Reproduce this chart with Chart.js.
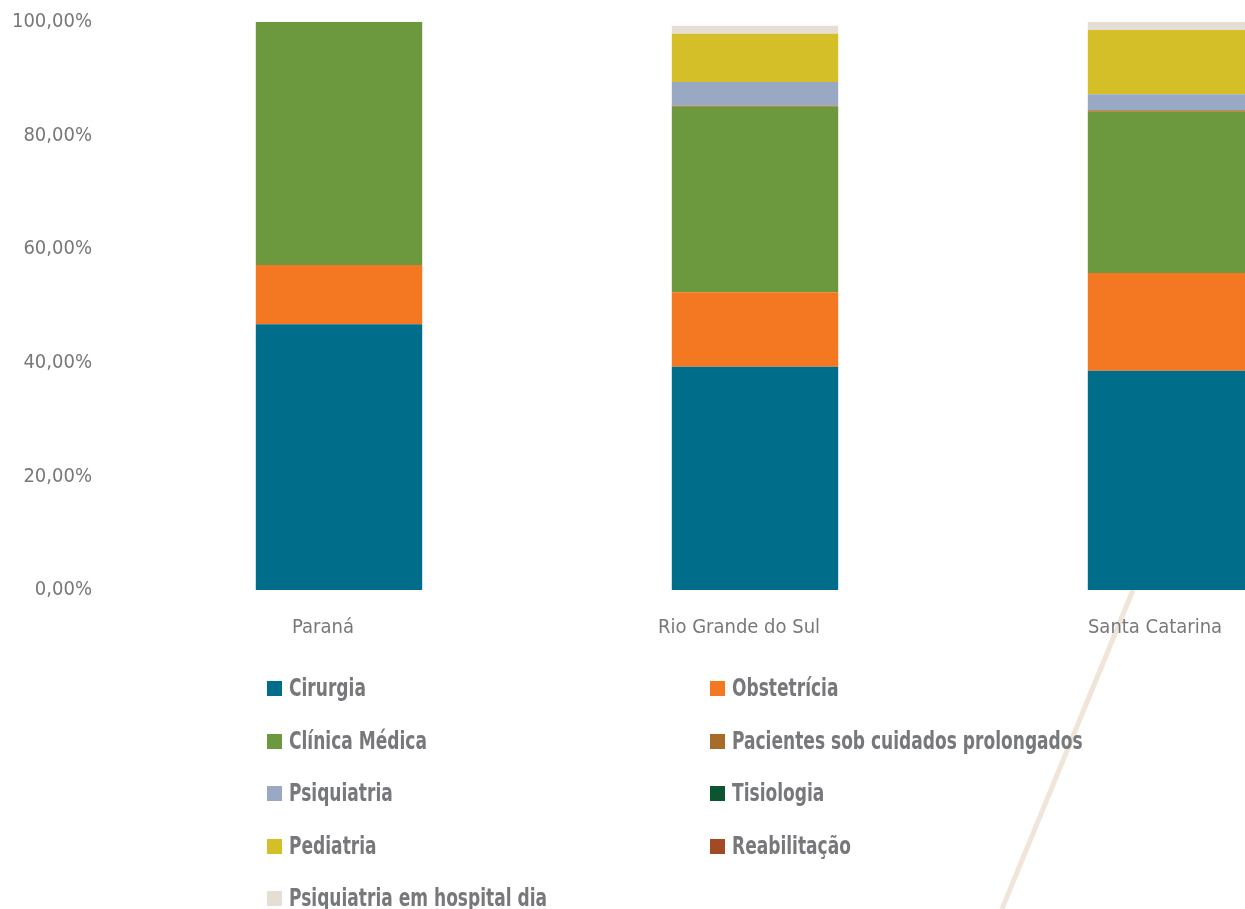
<!DOCTYPE html>
<html>
<head>
<meta charset="utf-8">
<script src="https://cdn.jsdelivr.net/npm/chart.js@4"></script>
<style>
  html, body { margin: 0; padding: 0; background: #fff; overflow: hidden; }
  #wrap { position: relative; width: 1245px; height: 909px; overflow: hidden; }
  #box { position: absolute; left: 0; top: 0; width: 1380px; height: 909px; }
  #legend { position: absolute; left: 0; top: 0; width: 1245px; height: 909px; pointer-events: none; }
  .item { position: absolute; display: flex; align-items: center; height: 30px; }
  .item span.sw { display: inline-block; width: 15px; height: 15px; margin-right: 7px; }
  .item span.tx { display: inline-block; transform: scaleX(0.79); transform-origin: left center;
    font-family: "DejaVu Sans Condensed", sans-serif;
    font-weight: bold; font-size: 24px; color: #77787b; white-space: nowrap; }
</style>
</head>
<body>
<div id="wrap">
  <div id="box"><canvas id="chart"></canvas></div>
  <div id="legend"></div>
</div>
<script>
// states (categories)
const estados = ["Paraná", "Rio Grande do Sul", "Santa Catarina"];

// share of each specialty, in %
const cirurgia = [46.8, 39.3, 38.6];
const obstetricia = [10.4, 13.1, 17.2];
const clinicaMedica = [42.8, 32.7, 28.4];
const pacientesProlongados = [0, 0.15, 0.25];
const psiquiatria = [0, 4.2, 2.85];
const tisiologia = [0, 0, 0];
const pediatria = [0, 8.5, 11.3];
const reabilitacao = [0, 0, 0];
const psiqHospitalDia = [0, 1.4, 1.4];

const yTicks = [0, 20, 40, 60, 80, 100];

const series = [
  { label: "Cirurgia", data: cirurgia, color: "#006e8a" },
  { label: "Obstetrícia", data: obstetricia, color: "#f47822" },
  { label: "Clínica Médica", data: clinicaMedica, color: "#6c983e" },
  { label: "Pacientes sob cuidados prolongados", data: pacientesProlongados, color: "#a96c28" },
  { label: "Psiquiatria", data: psiquiatria, color: "#9aa9c3" },
  { label: "Tisiologia", data: tisiologia, color: "#0b5631" },
  { label: "Pediatria", data: pediatria, color: "#d4bf28" },
  { label: "Reabilitação", data: reabilitacao, color: "#a24a26" },
  { label: "Psiquiatria em hospital dia", data: psiqHospitalDia, color: "#e4ded5" }
];

const tickFont = { family: "'DejaVu Sans Condensed', sans-serif", size: 20 };

// beige decorative stroke behind the chart
const decoLine = {
  id: "decoLine",
  beforeDraw(chart) {
    const ctx = chart.ctx;
    ctx.save();
    ctx.strokeStyle = "#f0e5d8";
    ctx.lineWidth = 5;
    ctx.beginPath();
    ctx.moveTo(1133, 590);
    ctx.lineTo(1002, 909);
    ctx.stroke();
    ctx.restore();
  }
};

const chart = new Chart(document.getElementById("chart"), {
  type: "bar",
  data: {
    labels: estados,
    datasets: series.map(s => ({
      label: s.label,
      data: s.data,
      backgroundColor: s.color,
      borderWidth: 0,
      categoryPercentage: 0.8,
      barPercentage: 0.5
    }))
  },
  options: {
    responsive: true,
    maintainAspectRatio: false,
    animation: false,
    layout: { padding: { top: 22, right: 1, bottom: 259, left: 0 } },
    plugins: { legend: { display: false }, tooltip: { enabled: false } },
    scales: {
      x: {
        stacked: true,
        grid: { display: false, drawTicks: false },
        border: { display: false },
        ticks: { color: "#77787b", font: tickFont, padding: 26, labelOffset: -16 },
        afterFit(scale) { scale.height = 60; }
      },
      y: {
        stacked: true,
        min: 0,
        max: 100,
        afterBuildTicks(scale) { scale.ticks = yTicks.map(v => ({ value: v })); },
        grid: { display: false, drawTicks: false },
        border: { display: false },
        ticks: {
          color: "#77787b",
          font: tickFont,
          padding: 39,
          callback: v => v.toFixed(2).replace(".", ",") + "%"
        },
        afterFit(scale) {
          scale.width = 131;
          scale.paddingTop = 0;
          scale.paddingBottom = 0;
        }
      }
    }
  },
  plugins: [decoLine]
});

// two-column legend built from the datasets
const legend = document.getElementById("legend");
const colX = [267, 710];
const rowY = [688, 741, 793, 846, 898];
series.forEach((s, i) => {
  const el = document.createElement("div");
  el.className = "item";
  el.style.left = colX[i % 2] + "px";
  el.style.top = (rowY[Math.floor(i / 2)] - 15) + "px";
  el.innerHTML = '<span class="sw" style="background:' + s.color + '"></span><span class="tx">' + s.label + '</span>';
  legend.appendChild(el);
});
</script>
</body>
</html>
